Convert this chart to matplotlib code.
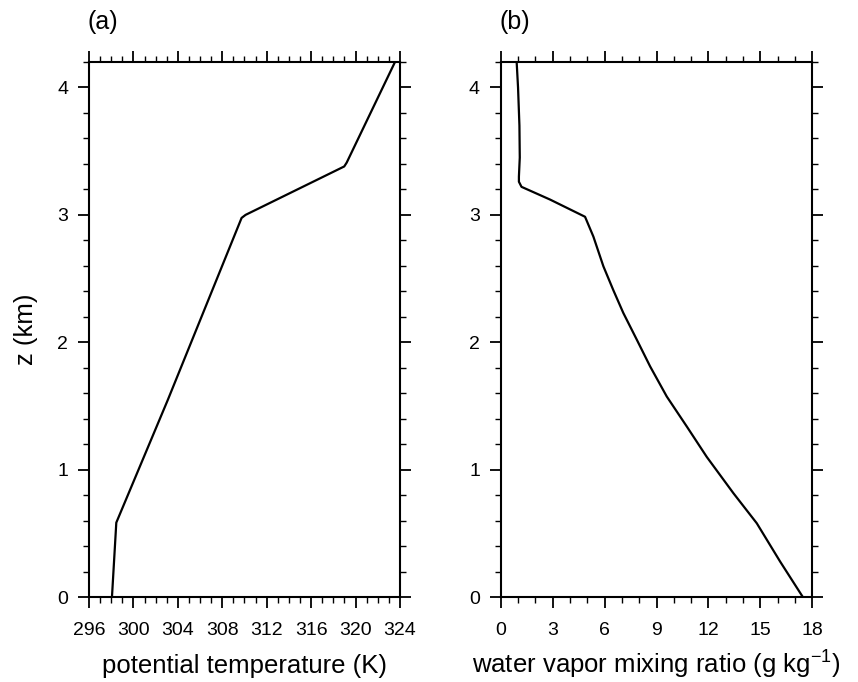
import numpy as np
import matplotlib
matplotlib.use('Agg')
import matplotlib.pyplot as plt
from matplotlib.ticker import MultipleLocator

plt.rcParams['font.family'] = ['Liberation Sans', 'DejaVu Sans']
plt.rcParams['mathtext.fontset'] = 'custom'
plt.rcParams['mathtext.rm'] = 'Liberation Sans'

# (a) potential temperature profile
theta = [298.07, 298.46, 303.1, 309.74, 310.1, 318.98, 319.2, 323.55]
z_theta = [0.0, 0.584, 1.548, 2.976, 3.0, 3.38, 3.41, 4.2]

# (b) water vapor mixing ratio profile
qv = [17.45, 16.14, 14.79, 13.44, 11.90, 10.75, 9.59, 8.63, 7.86, 7.08,
      6.50, 5.93, 5.35, 4.87, 2.85, 1.2, 1.05, 1.05, 1.1, 1.08, 1.0, 0.92]
z_qv = [0.0, 0.278, 0.579, 0.815, 1.10, 1.338, 1.574, 1.81, 2.02, 2.23,
        2.41, 2.596, 2.83, 2.985, 3.12, 3.22, 3.26, 3.3, 3.45, 3.7, 4.0, 4.2]

fig = plt.figure(figsize=(8.58, 6.82), dpi=100)
ax1 = fig.add_axes([0.1037, 0.1246, 0.3625, 0.7845])
ax2 = fig.add_axes([0.5836, 0.1246, 0.3632, 0.7845])

def style(ax, xlim, xmaj, xmin):
    ax.set_xlim(*xlim)
    ax.set_ylim(0, 4.2)
    ax.xaxis.set_major_locator(MultipleLocator(xmaj))
    ax.xaxis.set_minor_locator(MultipleLocator(xmin))
    ax.yaxis.set_major_locator(MultipleLocator(1))
    ax.yaxis.set_minor_locator(MultipleLocator(0.2))
    ax.tick_params(which='both', direction='out', top=True, right=True,
                   width=1.3, labelsize=14, pad=7)
    ax.tick_params(axis='x', which='major', pad=10)
    ax.tick_params(which='major', length=8)
    ax.tick_params(which='minor', length=4, width=1.0)
    for s in ax.spines.values():
        s.set_linewidth(1.5)

ax1.plot(theta, z_theta, color='black', lw=1.6)
style(ax1, (296, 324), 4, 1)
ax1.set_xlabel('potential temperature (K)', fontsize=18.5, labelpad=11)
ax1.set_ylabel('z (km)', fontsize=18.5, labelpad=14)
ax1.text(-0.005, 1.075, '(a)', transform=ax1.transAxes, fontsize=18, va='center')

ax2.plot(qv, z_qv, color='black', lw=1.6)
style(ax2, (0, 18), 3, 1)
ax2.set_xlabel(r'water vapor mixing ratio (g kg$^{\mathregular{-1}}$)', fontsize=18.5, labelpad=6)
ax2.text(-0.005, 1.075, '(b)', transform=ax2.transAxes, fontsize=18, va='center')

fig.savefig('out.png', dpi=100)
